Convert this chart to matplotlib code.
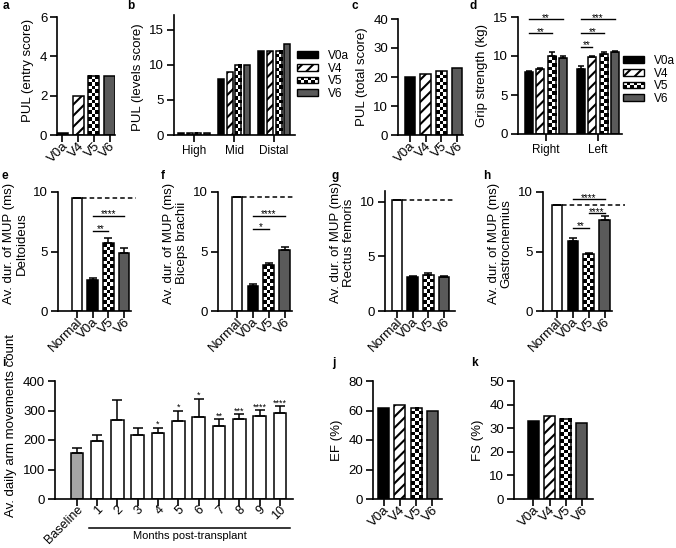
import numpy as np
import matplotlib
matplotlib.use('Agg')
import matplotlib.pyplot as plt
from matplotlib.patches import Rectangle
from matplotlib.legend_handler import HandlerBase
from matplotlib.transforms import ScaledTranslation

plt.rcParams['font.family'] = ['Liberation Sans', 'DejaVu Sans']
plt.rcParams['hatch.linewidth'] = 1.5
plt.rcParams['axes.linewidth'] = 1.2

# data
visits = ['V0a', 'V4', 'V5', 'V6']
pul_entry = [0.1, 2, 3, 3]

levels = ['High', 'Mid', 'Distal']
lev_v0a = [0.3, 8, 12]
lev_v4 = [0.3, 9, 12]
lev_v5 = [0.3, 10, 12]
lev_v6 = [0.3, 10, 13]

pul_total = [20, 21, 22, 23]

sides = ['Right', 'Left']
grip_v0a = [8.0, 8.3]
grip_v0a_err = [0.05, 0.4]
grip_v4 = [8.3, 9.9]
grip_v4_err = [0.15, 0.1]
grip_v5 = [10.0, 10.2]
grip_v5_err = [0.5, 0.3]
grip_v6 = [9.7, 10.5]
grip_v6_err = [0.35, 0.2]

mup_groups = ['Normal', 'V0a', 'V5', 'V6']
delt = [9.5, 2.6, 5.7, 4.9]
delt_err = [0, 0.2, 0.4, 0.4]
bic = [9.6, 2.1, 3.85, 5.15]
bic_err = [0, 0.15, 0.2, 0.25]
rect = [10.2, 3.15, 3.3, 3.1]
rect_err = [0, 0.1, 0.15, 0.15]
gastro = [8.9, 5.85, 4.75, 7.65]
gastro_err = [0, 0.3, 0.15, 0.3]

months = ['Baseline', '1', '2', '3', '4', '5', '6', '7', '8', '9', '10']
arm = [157, 198, 268, 218, 223, 263, 277, 248, 270, 280, 292]
arm_err = [17, 20, 67, 23, 19, 36, 63, 22, 18, 22, 23]
arm_stars = ['', '', '', '', '*', '*', '*', '**', '***', '****', '****']

ef = [62, 64, 62, 60]
fs = [33, 35, 34, 32]

FILL = {'V0a': 'black', 'V4': 'white', 'V5': 'none', 'V6': '#5a5a5a',
        'Normal': 'white', 'Baseline': '#a6a6a6'}
HATCH = {'V4': '///'}

W, H = 676, 548
fig = plt.figure(figsize=(W / 100, H / 100), dpi=100)


def add_ax(l, t, r, b, xlim, ylim, yticks):
    ax = fig.add_axes([l / W, 1 - b / H, (r - l) / W, (b - t) / H])
    ax.spines[['top', 'right']].set_visible(False)
    ax.set_xlim(*xlim)
    ax.set_ylim(*ylim)
    ax.set_yticks(yticks)
    ax.tick_params(axis='y', labelsize=9.5, length=5, width=1.2, pad=2)
    ax.tick_params(axis='x', labelsize=8.5, length=5, width=1.2, pad=2)
    return ax


def ylabel(ax, text, ypos=0.5, **kw):
    ax.set_ylabel(text, fontsize=9.5, **kw)
    ax.yaxis.label.set_y(ypos)


def checker(ax, patch, size=3.5):
    x, y, w, h = patch.get_x(), patch.get_y(), patch.get_width(), patch.get_height()
    (x0, y0), (x1, y1) = ax.transData.transform([(x, y), (x + w, y + h)])
    nc = max(1, round((x1 - x0) / size))
    nr = max(1, round((y1 - y0) / size))
    grid = np.indices((nr, nc)).sum(axis=0) % 2
    ax.imshow(grid, extent=(x, x + w, y, y + h), cmap='gray', vmin=0, vmax=1,
              interpolation='nearest', aspect='auto', origin='lower', zorder=1.9)


def bars(ax, xs, vals, names, width, err=None, capsize=3):
    for x, v, n in zip(xs, vals, names):
        b = ax.bar(x, v, width, color=FILL.get(n, 'white'), edgecolor='black',
                   linewidth=1.1, hatch=HATCH.get(n), zorder=2)
        if n == 'V5':
            checker(ax, b.patches[0])
    if err is not None:
        ax.errorbar(xs, vals, yerr=[np.zeros(len(err)), err], fmt='none', ecolor='black',
                    elinewidth=1.1, capsize=capsize, capthick=1.1, zorder=3)


def sig(ax, x1, x2, y, label):
    ax.plot([x1, x2], [y, y], color='black', lw=1, clip_on=False)
    ax.annotate(label, ((x1 + x2) / 2, y), xytext=(0, -2.5), textcoords='offset points',
                ha='center', va='bottom', fontsize=7)


def rot_labels(ax, labels, size=9.5):
    # rotated labels, nudged right/down so the tick sits at their end
    ax.tick_params(axis='x', pad=0)
    ax.set_xticklabels(labels, rotation=45, ha='right', va='center',
                       rotation_mode='anchor', fontsize=size)
    shift = ScaledTranslation(0.04, -0.02, fig.dpi_scale_trans)
    for t in ax.get_xticklabels():
        t.set_transform(t.get_transform() + shift)


class HandlerChecker(HandlerBase):
    def create_artists(self, legend, orig_handle, xdescent, ydescent, width, height, fontsize, trans):
        x0, y0 = -xdescent, -ydescent
        arts = [Rectangle((x0, y0), width, height, facecolor='white', lw=0, transform=trans)]
        n = 6
        s = width / n
        for r in range(2):
            for c in range(n):
                if (r + c) % 2 == 0:
                    arts.append(Rectangle((x0 + c * s, y0 + r * height / 2), s, height / 2,
                                          facecolor='black', lw=0, transform=trans))
        arts.append(Rectangle((x0, y0), width, height, facecolor='none', edgecolor='black',
                              lw=1, transform=trans))
        return arts


def legend(ax, x, y):
    handles = [Rectangle((0, 0), 1, 1, facecolor=FILL[n], edgecolor='black', lw=1,
                         hatch=HATCH.get(n)) for n in visits]
    handles[2] = Rectangle((0, 0), 1, 1)
    ax.legend(handles, visits, loc='upper left', bbox_to_anchor=(x / W, 1 - y / H),
              bbox_transform=fig.transFigure, frameon=False, fontsize=8.5,
              handlelength=1.8, handleheight=0.5, handletextpad=0.8, labelspacing=0.05,
              borderpad=0, borderaxespad=0, handler_map={handles[2]: HandlerChecker()})


def plabel(x, y, s):
    fig.text(x / W, 1 - y / H, s, fontsize=8.5, fontweight='bold', va='center', ha='left')


x4 = np.arange(4)

# a
ax = add_ax(57, 17, 115, 135, (-0.35, 3.35), (0, 6), [0, 2, 4, 6])
bars(ax, x4, pul_entry, visits, 0.7)
ax.set_xticks(x4)
rot_labels(ax, visits)
ylabel(ax, 'PUL (entry score)', 0.55)

# b
ax = add_ax(174, 15, 295, 135, (-0.5, 2.52), (0, 17.1), [0, 5, 10, 15])
xg = np.arange(3)
for k, (n, v) in enumerate(zip(visits, [lev_v0a, lev_v4, lev_v5, lev_v6])):
    bars(ax, xg + (k - 1.5) * 0.2175, v, [n] * 3, 0.15)
ax.set_xticks(xg)
ax.set_xticklabels(levels)
ylabel(ax, 'PUL (levels score)', 0.48)
legend(ax, 297, 50)

# c
ax = add_ax(398, 19, 463, 135, (-0.76, 3.38), (0, 40), [0, 10, 20, 30, 40])
bars(ax, x4, pul_total, visits, 0.68)
ax.set_xticks(x4)
rot_labels(ax, visits)
ylabel(ax, 'PUL (total score)')

# d
ax = add_ax(518, 17, 622, 134, (-0.54, 1.46), (0, 15), [0, 5, 10, 15])
xs = np.arange(2)
grips = [(grip_v0a, grip_v0a_err), (grip_v4, grip_v4_err), (grip_v5, grip_v5_err), (grip_v6, grip_v6_err)]
for k, (n, (v, e)) in enumerate(zip(visits, grips)):
    bars(ax, xs + (k - 1.5) * 0.217, v, [n] * 2, 0.155, e, capsize=2.2)
off = (np.arange(4) - 1.5) * 0.217
sig(ax, off[0], off[3], 14.7, '**')
sig(ax, off[0], off[2], 12.9, '**')
sig(ax, 1 + off[0], 1 + off[3], 14.7, '***')
sig(ax, 1 + off[0], 1 + off[2], 12.9, '**')
sig(ax, 1 + off[0], 1 + off[1], 11.2, '**')
ax.set_xticks(xs)
ax.set_xticklabels(sides)
ylabel(ax, 'Grip strength (kg)')
legend(ax, 623, 55)


# e-h
def mup(l, r, xlim, ylim, vals, err, name, dash_ext, sigs):
    ax = add_ax(l, 192 if ylim[1] == 10 else 191, r, 311, xlim, ylim, [0, 5, 10])
    bars(ax, x4, vals, mup_groups, 0.67, err, capsize=2.6)
    ax.plot([0.335, xlim[1] + dash_ext], [vals[0], vals[0]], color='black', lw=1.1,
            ls=(0, (3, 2)), clip_on=False, zorder=1)
    for a, b, y, s in sigs:
        sig(ax, a, b, y, s)
    ax.set_xticks(x4)
    rot_labels(ax, mup_groups)
    ylabel(ax, 'Av. dur. of MUP (ms)\n' + name, 0.57, linespacing=1.05)
    return ax


mup(58, 131, (-1.22, 3.45), (0, 10), delt, delt_err, 'Deltoideus', 0.3,
    [(1, 3, 8.0, '****'), (1, 2, 6.75, '**')])
mup(218, 292, (-1.2, 3.47), (0, 10), bic, bic_err, 'Biceps brachii', 0.2,
    [(1, 3, 8.0, '****'), (1, 2, 6.9, '*')])
mup(385, 455, (-0.76, 3.7), (0, 11), rect, rect_err, 'Rectus femoris', 0.0, [])
mup(543, 612, (-0.89, 3.47), (0, 10), gastro, gastro_err, 'Gastrocnemius', 0.8,
    [(1, 3, 9.4, '****'), (2, 3, 8.2, '****'), (1, 2, 7.0, '**')])

# i
ax = add_ax(55, 381, 293, 499, (-1.08, 10.65), (0, 400), [0, 100, 200, 300, 400])
xm = np.arange(len(months))
bars(ax, xm, arm, months, 0.62, arm_err, capsize=3.4)
for x, v, e, s in zip(xm, arm, arm_err, arm_stars):
    ax.annotate(s, (x, v + e), xytext=(0, -1), textcoords='offset points',
                ha='center', va='bottom', fontsize=6.5)
ax.set_xticks(xm)
rot_labels(ax, months, 9)
ylabel(ax, 'Av. daily arm movements count', 0.62)
trans = ax.get_xaxis_transform()
ax.plot([0.6, 10.5], [-0.246, -0.246], color='black', lw=1.1, transform=trans, clip_on=False)
ax.text(5.55, -0.27, 'Months post-transplant', transform=trans, ha='center', va='top', fontsize=8)

# j
ax = add_ax(373, 381, 442, 499, (-0.65, 3.6), (0, 80), [0, 20, 40, 60, 80])
bars(ax, x4, ef, visits, 0.68)
ax.set_xticks(x4)
rot_labels(ax, visits)
ylabel(ax, 'EF (%)')

# k
ax = add_ax(514, 381, 593, 499, (-1.2, 3.68), (0, 50), [0, 10, 20, 30, 40, 50])
bars(ax, x4, fs, visits, 0.68)
ax.set_xticks(x4)
rot_labels(ax, visits)
ylabel(ax, 'FS (%)')

for x, y, s in [(3, 6, 'a'), (127, 6, 'b'), (352, 6, 'c'), (469, 6, 'd'),
                (2, 176, 'e'), (161, 176, 'f'), (331, 176, 'g'), (483, 176, 'h'),
                (2, 363, 'i'), (332, 363, 'j'), (471, 363, 'k')]:
    plabel(x, y, s)

fig.savefig('out.png', dpi=100)
